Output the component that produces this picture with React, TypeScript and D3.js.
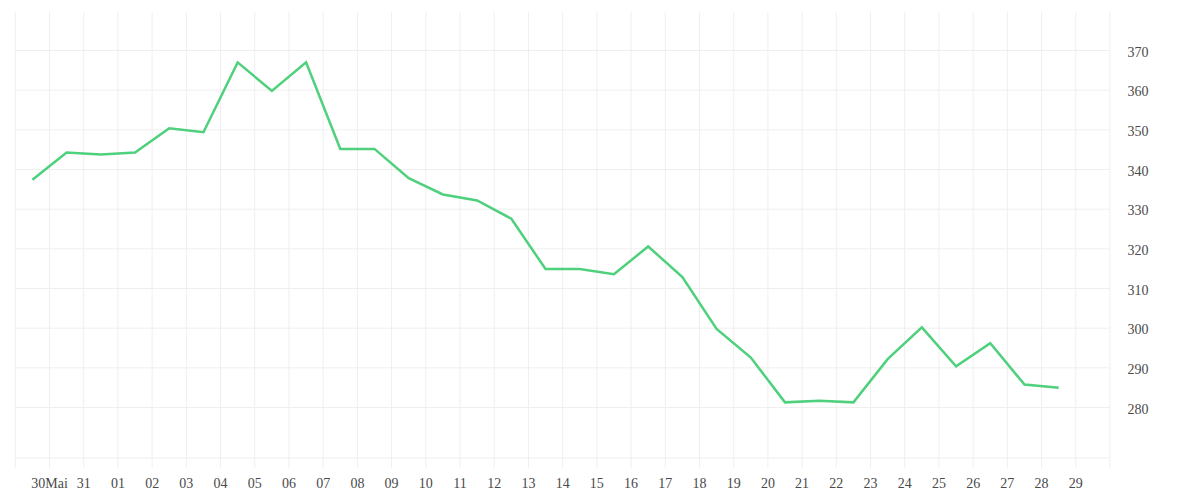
import React from "react";
import * as d3 from "d3";

const dates: string[] = [
  "2024-05-29", "2024-05-30", "2024-05-31", "2024-06-01", "2024-06-02", "2024-06-03",
  "2024-06-04", "2024-06-05", "2024-06-06", "2024-06-07", "2024-06-08", "2024-06-09",
  "2024-06-10", "2024-06-11", "2024-06-12", "2024-06-13", "2024-06-14", "2024-06-15",
  "2024-06-16", "2024-06-17", "2024-06-18", "2024-06-19", "2024-06-20", "2024-06-21",
  "2024-06-22", "2024-06-23", "2024-06-24", "2024-06-25", "2024-06-26", "2024-06-27",
  "2024-06-28",
];

const values: number[] = [
  337.4, 344.3, 343.8, 344.3, 350.4, 349.4, 367.0, 359.8, 367.0, 345.2, 345.2, 337.8,
  333.7, 332.2, 327.6, 314.9, 314.9, 313.6, 320.6, 312.9, 299.8, 292.6, 281.3, 281.7,
  281.3, 292.2, 300.2, 290.4, 296.2, 285.8, 285.0,
];

const yTicks: number[] = [280, 290, 300, 310, 320, 330, 340, 350, 360, 370];

const xTickLabels: string[] = [
  "30Mai", "31", "01", "02", "03", "04", "05", "06", "07", "08", "09", "10", "11",
  "12", "13", "14", "15", "16", "17", "18", "19", "20", "21", "22", "23", "24", "25",
  "26", "27", "28", "29",
];

const W = 1200;
const H = 500;
const left = 15.3;
const right = 1110;
const top = 12;
const bottom = 458;

export default function App() {
  const parse = (s: string) => new Date(s + "T00:00:00Z");
  const x = d3
    .scaleUtc()
    .domain([parse("2024-05-29"), parse("2024-06-30")])
    .range([left, right]);
  const y = d3.scaleLinear().domain([267.27, 379.71]).range([bottom, top]);

  const points = dates.map((d, i) => ({
    t: d3.utcHour.offset(parse(d), 12),
    v: values[i],
  }));

  const line = d3
    .line<{ t: Date; v: number }>()
    .x((d) => x(d.t))
    .y((d) => y(d.v));

  const gridDays = d3.utcDay.range(parse("2024-05-29"), d3.utcDay.offset(parse("2024-06-30"), 1));
  const labelDays = d3.utcDay.range(parse("2024-05-30"), parse("2024-06-30"));

  const gridColor = "#efefef";
  const textColor = "#4a4a4a";
  const font = "serif";

  return (
    <svg
      width={W}
      height={H}
      style={{ position: "absolute", left: 0, top: 0, background: "#fff" }}
    >
      {gridDays.map((d, i) => (
        <line
          key={"vg" + i}
          x1={x(d)}
          x2={x(d)}
          y1={top}
          y2={bottom + 10}
          stroke={gridColor}
          strokeWidth={1}
        />
      ))}
      {yTicks.map((t) => (
        <line
          key={"hg" + t}
          x1={left}
          x2={right}
          y1={y(t)}
          y2={y(t)}
          stroke={gridColor}
          strokeWidth={1}
        />
      ))}
      <line x1={left} x2={right} y1={bottom} y2={bottom} stroke={gridColor} strokeWidth={1} />
      {yTicks.map((t) => (
        <text
          key={"yl" + t}
          x={1127.5}
          y={y(t) + 6}
          fontFamily={font}
          fontSize={14}
          fill={textColor}
        >
          {t}
        </text>
      ))}
      {labelDays.map((d, i) => (
        <text
          key={"xl" + i}
          x={x(d)}
          y={488}
          textAnchor="middle"
          fontFamily={font}
          fontSize={14}
          fill={textColor}
        >
          {xTickLabels[i]}
        </text>
      ))}
      <path
        d={line(points) || ""}
        fill="none"
        stroke="#4ed07c"
        strokeWidth={2.5}
        strokeLinejoin="miter"
      />
    </svg>
  );
}
